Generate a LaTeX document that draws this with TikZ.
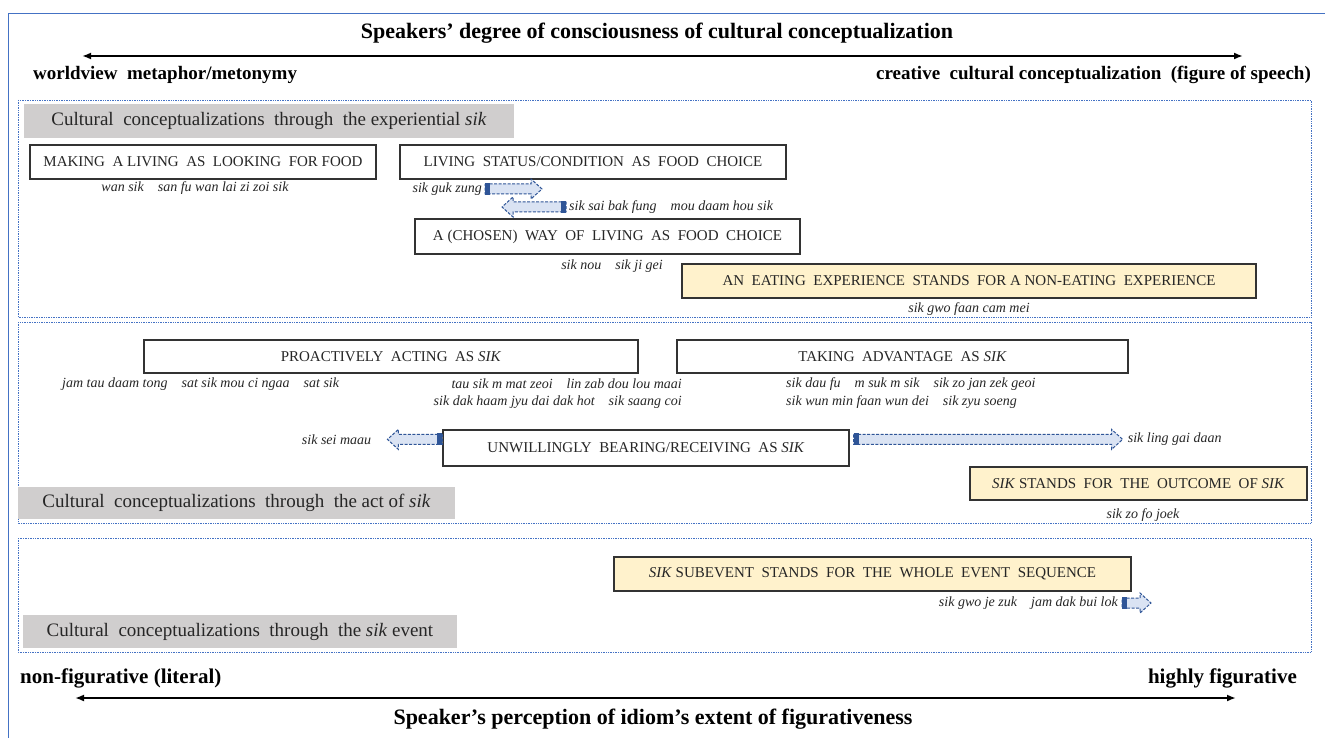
\documentclass[tikz,border=0pt]{standalone}
\usepackage{fontspec}
\setmainfont{Liberation Serif}
\usetikzlibrary{arrows.meta,calc}
\definecolor{frameblue}{HTML}{4472C4}
\definecolor{panelblue}{HTML}{4472C4}
\definecolor{arrowline}{HTML}{2F5597}
\definecolor{arrowfill}{HTML}{DAE3F3}
\definecolor{labelgray}{HTML}{D0CECE}
\definecolor{boxyellow}{HTML}{FFF2CC}
\definecolor{inkgray}{HTML}{262626}
\tikzset{
  conceptbox/.style={draw=black!80, line width=1.2pt, fill=white, inner sep=0pt,
    font=\fontsize{15}{18}\selectfont, text=inkgray},
  metobox/.style={conceptbox, fill=boxyellow},
  grouplabel/.style={fill=labelgray, inner sep=0pt, font=\fontsize{19}{22}\selectfont, text=inkgray},
  example/.style={inner sep=0pt, font=\fontsize{14}{16}\selectfont\itshape, text=inkgray},
  panel/.style={draw=panelblue, densely dotted, line width=0.7pt},
  scalearrow/.style={line width=2pt, {Latex[length=9pt,width=7pt]}-{Latex[length=9pt,width=7pt]}},
  axislabel/.style={inner sep=0pt, font=\fontsize{19}{22}\selectfont\bfseries},
  axistitle/.style={inner sep=0pt, font=\fontsize{22}{26}\selectfont\bfseries},
  arrowbody/.style={draw=arrowline, fill=arrowfill, line width=1pt, dash pattern=on 3pt off 1.5pt},
}
% block arrow: tail point, tip point, direction (1 = right, -1 = left)
\newcommand{\blockarrow}[3]{%
  \draw[arrowbody] let \p1=(#1), \p2=(#2) in
    (\x1,{\y1+5pt}) -- ({\x2-(#3)*11pt},{\y1+5pt}) -- ({\x2-(#3)*11pt},{\y1+10pt})
    -- (\x2,\y1) -- ({\x2-(#3)*11pt},{\y1-10pt}) -- ({\x2-(#3)*11pt},{\y1-5pt})
    -- (\x1,{\y1-5pt}) -- cycle;
  \fill[arrowline] let \p1=(#1) in
    (\x1,{\y1-6pt}) rectangle ({\x1+(#3)*5pt},{\y1+6pt});
}
\begin{document}
\begin{tikzpicture}[x=1pt,y=-1pt]
\useasboundingbox (0,0) rectangle (1325,738);
\fill[white] (0,0) rectangle (1325,738);
% outer frame
\draw[frameblue, line width=1pt] (8,745) -- (8,14) -- (1330,14);

% upper scale
\node[axistitle] (toptitle) at (657,33) {Speakers’ degree of consciousness of cultural conceptualization};
\coordinate (topL) at (82,56);
\coordinate (topR) at (1243,56);
\draw[scalearrow] (topL) -- (topR);
\node[axislabel, anchor=west] (worldview) at (33,75) {worldview\ \ metaphor/metonymy};
\node[axislabel, anchor=east] (creative) at (1311,75) {creative\ \ cultural conceptualization\ \ (figure of speech)};

% panels
\draw[panel] (18,100) rectangle (1311,317);
\draw[panel] (18,322) rectangle (1311,523);
\draw[panel] (18,538) rectangle (1311,652);

% panel 1: experiential sik
\node[grouplabel, minimum width=490pt, minimum height=34pt] (g1) at (269,121)
  {Cultural\ \ conceptualizations\ \ through\ \ the experiential \textit{sik}};
\node[conceptbox, minimum width=346pt, minimum height=34pt] (b1) at (203,162)
  {MAKING\ \ A LIVING\ \ AS\ \ LOOKING\ \ FOR FOOD};
\node[example] (e1) at (195,188) {wan sik\quad san fu wan lai zi zoi sik};
\node[conceptbox, minimum width=386pt, minimum height=34pt] (b2) at (593,162)
  {LIVING\ \ STATUS/CONDITION\ \ AS\ \ FOOD\ \ CHOICE};
\node[example, anchor=east] (e2) at (482,189) {sik guk zung};
\node[example, anchor=west] (e3) at (569,207) {sik sai bak fung\quad mou daam hou sik};
\node[conceptbox, minimum width=385pt, minimum height=35pt] (b3) at (607.5,236.5)
  {A (CHOSEN)\ \ WAY\ \ OF\ \ LIVING\ \ AS\ \ FOOD\ \ CHOICE};
\node[example] (e4) at (612,266) {sik nou\quad sik ji gei};
\node[metobox, minimum width=574pt, minimum height=34pt] (y1) at (969,281)
  {AN\ \ EATING\ \ EXPERIENCE\ \ STANDS\ \ FOR A NON-EATING\ \ EXPERIENCE};
\node[example] (e5) at (969,309) {sik gwo faan cam mei};
\coordinate (a1t) at ($(e2.east)+(3,0)$);
\coordinate (a1h) at ($(e2.east)+(60,0)$);
\blockarrow{a1t}{a1h}{1}
\coordinate (a2t) at ($(e3.west)+(-3,0)$);
\coordinate (a2h) at ($(e3.west)+(-67,0)$);
\blockarrow{a2t}{a2h}{-1}

% panel 2: act of sik
\node[conceptbox, minimum width=494pt, minimum height=33pt] (b4) at (391,356.5)
  {PROACTIVELY\ \ ACTING\ \ AS \textit{SIK}};
\node[conceptbox, minimum width=451pt, minimum height=33pt] (b5) at (902.5,356.5)
  {TAKING\ \ ADVANTAGE\ \ AS \textit{SIK}};
\node[example, anchor=west] (e6) at (62,384) {jam tau daam tong\quad sat sik mou ci ngaa\quad sat sik};
\node[example, anchor=east] (e7) at (682,384) {tau sik m mat zeoi\quad lin zab dou lou maai};
\node[example, anchor=east] (e8) at (682,402) {sik dak haam jyu dai dak hot\quad sik saang coi};
\node[example, anchor=west] (e9) at (786,384) {sik dau fu\quad m suk m sik\quad sik zo jan zek geoi};
\node[example, anchor=west] (e10) at (786,402) {sik wun min faan wun dei\quad sik zyu soeng};
\node[conceptbox, minimum width=406pt, minimum height=36pt] (b6) at (646,448)
  {UNWILLINGLY\ \ BEARING/RECEIVING\ \ AS \textit{SIK}};
\coordinate (a3t) at ($(b6.north west)+(0,10)$);
\coordinate (a3h) at ($(b6.north west)+(-55,10)$);
\blockarrow{a3t}{a3h}{-1}
\node[example, anchor=east] (e11) at ($(b6.north west)+(-71,10)$) {sik sei maau};
\coordinate (a4t) at ($(b6.north east)+(4,10)$);
\coordinate (a4h) at ($(b6.north east)+(273,10)$);
\blockarrow{a4t}{a4h}{1}
\node[example, anchor=west] (e12) at ($(a4h)+(5,0)$) {sik ling gai daan};
\node[metobox, minimum width=337pt, minimum height=33pt] (y2) at (1138.5,483.5)
  {\textit{SIK} STANDS\ \ FOR\ \ THE\ \ OUTCOME\ \ OF \textit{SIK}};
\node[example] (e13) at (1143,515) {sik zo fo joek};
\node[grouplabel, minimum width=437pt, minimum height=32pt] (g2) at (236.5,503)
  {Cultural\ \ conceptualizations\ \ through\ \ the act of \textit{sik}};

% panel 3: sik event
\node[metobox, minimum width=517pt, minimum height=34pt] (y3) at (872.5,574)
  {\textit{SIK} SUBEVENT\ \ STANDS\ \ FOR\ \ THE\ \ WHOLE\ \ EVENT\ \ SEQUENCE};
\node[example, anchor=east] (e14) at (1118,603) {sik gwo je zuk\quad jam dak bui lok};
\coordinate (a5t) at ($(e14.east)+(4,0)$);
\coordinate (a5h) at ($(e14.east)+(33,0)$);
\blockarrow{a5t}{a5h}{1}
\node[grouplabel, minimum width=434pt, minimum height=33pt] (g3) at (240,631.5)
  {Cultural\ \ conceptualizations\ \ through\ \ the \textit{sik} event};

% lower scale
\node[axislabel, anchor=west, font=\fontsize{21}{24}\selectfont\bfseries] (literal) at (20,678) {non-figurative (literal)};
\node[axislabel, anchor=east, font=\fontsize{21}{24}\selectfont\bfseries] (figurative) at (1297,678) {highly figurative};
\coordinate (botL) at (75,698);
\coordinate (botR) at (1236,698);
\draw[scalearrow] (botL) -- (botR);
\node[axistitle] (bottitle) at (653,719) {Speaker’s perception of idiom’s extent of figurativeness};
\end{tikzpicture}
\end{document}
